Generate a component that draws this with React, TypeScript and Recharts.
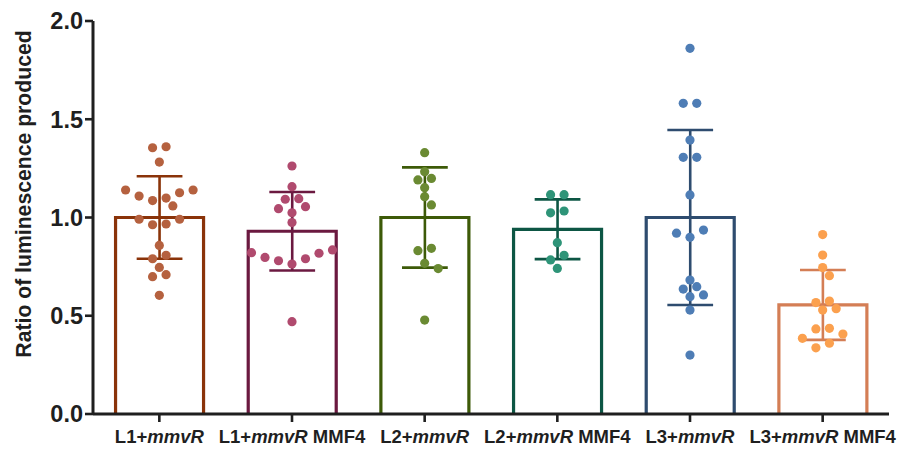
import React from 'react';
import { ComposedChart, Bar, Scatter, XAxis, YAxis } from 'recharts';

// ---- data ----
const categories = ['L1', 'L1 MMF4', 'L2', 'L2 MMF4', 'L3', 'L3 MMF4'];
const labelPrefix = ['L1+', 'L1+', 'L2+', 'L2+', 'L3+', 'L3+'];
const labelItalic = 'mmvR';
const labelSuffix = ['', ' MMF4', '', ' MMF4', '', ' MMF4'];
const means = [1.0, 0.93, 1.0, 0.94, 1.0, 0.555];
const sds = [0.21, 0.2, 0.255, 0.152, 0.445, 0.178];

const pointsL1 = [1.36, 1.355, 1.282, 1.126, 1.14, 1.14, 1.109, 1.099, 1.086, 1.059, 0.991, 0.967, 0.963, 0.991, 0.858, 0.808, 0.79, 0.746, 0.709, 0.699, 0.604];
const pointsL1M = [1.262, 1.157, 1.093, 1.096, 1.045, 1.055, 1.024, 0.974, 0.821, 0.797, 0.78, 0.763, 0.79, 0.818, 0.835, 0.47];
const pointsL2 = [1.33, 1.233, 1.199, 1.191, 1.152, 1.106, 1.064, 0.831, 0.843, 0.767, 0.74, 0.478];
const pointsL2M = [1.116, 1.116, 1.024, 1.033, 0.872, 0.808, 0.784, 0.741];
const pointsL3 = [1.861, 1.581, 1.581, 1.394, 1.306, 1.306, 1.115, 0.92, 0.936, 0.899, 0.648, 0.682, 0.606, 0.597, 0.636, 0.529, 0.3];
const pointsL3M = [0.913, 0.809, 0.745, 0.704, 0.567, 0.575, 0.529, 0.536, 0.436, 0.433, 0.407, 0.385, 0.36, 0.337];
const groups = [pointsL1, pointsL1M, pointsL2, pointsL2M, pointsL3, pointsL3M];

const yTicks = [0, 0.5, 1, 1.5, 2];

// ---- styles ----
const strokeColors = ['#8A3309', '#6B1940', '#3D5A08', '#0D5644', '#2E4C6F', '#D47E55'];
const dotColors = ['#B5613F', '#B04A6E', '#6A8A32', '#2E9478', '#4E7DB5', '#FBA04E'];
const FONT = '"Liberation Sans", Arial, Helvetica, sans-serif';
const AXIS = '#1f1f1f';

const W = 898;
const H = 450;
const M = { top: 21, right: 9, bottom: 0, left: 0 };
const Y_AXIS_W = 93;
const X_AXIS_H = 36;
const Y_MAX = 2;
const PLOT_H = H - M.top - M.bottom - X_AXIS_H;
const PX_PER_UNIT = PLOT_H / Y_MAX;
const DOT_R = 4.6;
const ROW_GAP = 5; // px: consecutive points closer than this share a row
const STEP = 13.5; // px: horizontal spacing inside a row
const MIN_DIST = 9; // px: minimum centre distance between dots

// scatter-dot layout: rows of close values spread symmetrically, shifted to avoid overlaps
function layoutDots(values: number[], unitPx: number): number[] {
  const order = values.map((_, i) => i).sort((a, b) => values[b] - values[a]);
  const rows: number[][] = [];
  order.forEach((idx, k) => {
    if (k > 0 && (values[order[k - 1]] - values[idx]) * unitPx < ROW_GAP) rows[rows.length - 1].push(idx);
    else rows.push([idx]);
  });
  const placed: { x: number; y: number }[] = [];
  const out: number[] = new Array(values.length).fill(0);
  for (const row of rows) {
    const n = row.length;
    const asc = [...row].sort((a, b) => values[a] - values[b]);
    const base: number[] = [];
    if (n % 2 === 1) {
      base.push(0);
      for (let j = 1; base.length < n; j++) base.push(-j * STEP, j * STEP);
    } else {
      for (let j = 0; base.length < n; j++) base.push(-(j + 0.5) * STEP, (j + 0.5) * STEP);
    }
    const shifts = [0, STEP / 2, -STEP / 2, STEP, -STEP, 1.5 * STEP, -1.5 * STEP];
    let chosen = 0;
    for (const s of shifts) {
      const ok = asc.every((idx, j) => {
        const x = base[j] + s;
        const y = values[idx] * unitPx;
        return placed.every((p) => Math.hypot(p.x - x, p.y - y) >= MIN_DIST);
      });
      if (ok) {
        chosen = s;
        break;
      }
    }
    asc.forEach((idx, j) => {
      const x = base[j] + chosen;
      out[idx] = x;
      placed.push({ x, y: values[idx] * unitPx });
    });
  }
  return out;
}

const barData = categories.map((name, i) => ({ name, mean: means[i], sd: sds[i], ci: i }));

const dotData = groups.flatMap((vals, gi) => {
  const offs = layoutDots(vals, PX_PER_UNIT);
  return vals.map((v, k) => ({ x: gi, y: v, dx: offs[k], g: gi }));
});

const BarShape = (props: any) => {
  const { x, y, width, height, payload } = props;
  const color = strokeColors[payload.ci];
  const cx = x + width / 2;
  const k = height / payload.mean;
  const top = y - payload.sd * k;
  const bot = y + payload.sd * k;
  const cap = width * 0.26;
  return (
    <g>
      <path
        d={`M${x},${y + height} L${x},${y} L${x + width},${y} L${x + width},${y + height}`}
        fill="#ffffff"
        stroke={color}
        strokeWidth={3.2}
      />
      <line x1={cx} x2={cx} y1={top} y2={bot} stroke={color} strokeWidth={2.6} />
      <line x1={cx - cap} x2={cx + cap} y1={top} y2={top} stroke={color} strokeWidth={2.6} />
      <line x1={cx - cap} x2={cx + cap} y1={bot} y2={bot} stroke={color} strokeWidth={2.6} />
    </g>
  );
};

const DotShape = (props: any) => {
  const { cx, cy, payload } = props;
  return <circle cx={cx + payload.dx} cy={cy} r={DOT_R} fill={dotColors[payload.g]} />;
};

const XTick = (props: any) => {
  const { x, y, payload } = props;
  const i = categories.indexOf(payload.value);
  return (
    <text x={x} y={y} dy="0.71em" textAnchor="middle" fontFamily={FONT} fontWeight="bold" fontSize={18.5} fill={AXIS}>
      <tspan>{labelPrefix[i]}</tspan>
      <tspan fontStyle="italic">{labelItalic}</tspan>
      <tspan>{labelSuffix[i]}</tspan>
    </text>
  );
};

const YTitle = () => (
  <text
    x={23}
    y={194}
    transform="rotate(-90 23 194)"
    textAnchor="middle"
    dominantBaseline="central"
    fontFamily={FONT}
    fontWeight="bold"
    fontSize={21.2}
    fill={AXIS}
  >
    Ratio of luminescence produced
  </text>
);

export default function App() {
  return (
    <div style={{ position: 'absolute', left: 0, top: 0, width: W, height: H, background: '#fff' }}>
      <ComposedChart width={W} height={H} data={barData} margin={M} barCategoryGap="17%">
        <XAxis
          xAxisId="cat"
          dataKey="name"
          type="category"
          height={X_AXIS_H}
          interval={0}
          tick={<XTick />}
          tickSize={8}
          tickMargin={8}
          axisLine={{ stroke: AXIS, strokeWidth: 3 }}
          tickLine={{ stroke: AXIS, strokeWidth: 2.6 }}
        />
        <XAxis xAxisId="num" dataKey="x" type="number" domain={[-0.5, categories.length - 0.5]} hide />
        <YAxis
          width={Y_AXIS_W}
          domain={[0, Y_MAX]}
          ticks={yTicks}
          interval={0}
          tickFormatter={(v: number) => v.toFixed(1)}
          tickSize={8}
          tickMargin={2}
          tick={{ fontFamily: FONT, fontWeight: 'bold', fontSize: 23.5, fill: AXIS }}
          axisLine={{ stroke: AXIS, strokeWidth: 3 }}
          tickLine={{ stroke: AXIS, strokeWidth: 2.6 }}
          label={{ content: () => <YTitle /> }}
        />
        <Bar
          xAxisId="cat"
          dataKey="mean"
          shape={<BarShape />}
          isAnimationActive={false}
        />
        <Scatter
          xAxisId="num"
          data={dotData}
          dataKey="y"
          shape={<DotShape />}
          isAnimationActive={false}
        />
      </ComposedChart>
    </div>
  );
}
